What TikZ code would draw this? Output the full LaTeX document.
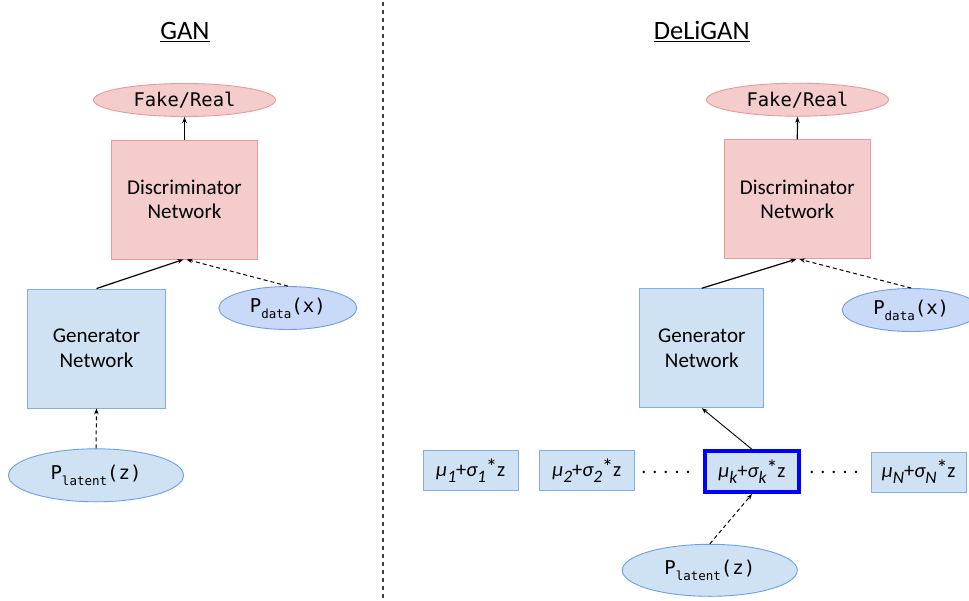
\documentclass[tikz,border=0pt]{standalone}
\usepackage{fontspec}
\setmainfont{Carlito}
\setmonofont{DejaVu Sans Mono}
\usetikzlibrary{shapes.geometric,arrows.meta}
\definecolor{pinkfill}{HTML}{F4CCCC}
\definecolor{pinkline}{HTML}{EA9999}
\definecolor{bluefill}{HTML}{CFE2F3}
\definecolor{blueline}{HTML}{7FAFE6}
\definecolor{dataFill}{HTML}{C9DAF8}
\definecolor{ellline}{HTML}{6D9EEB}
\definecolor{strongblue}{HTML}{0000FF}
\newcommand{\monosub}[1]{\raisebox{-6pt}{\fontsize{12.5}{12.5}\selectfont #1}}
\newcommand{\musub}[1]{\raisebox{-6pt}{\fontsize{17.5}{17.5}\selectfont\itshape #1}}
\newcommand{\mustar}{\raisebox{2pt}{\fontsize{22}{22}\selectfont\upshape *}}
\newcommand{\mulabel}[1]{{\fontsize{20.5}{24}\selectfont\itshape μ\musub{#1}\upshape+\itshape σ\musub{#1}\mustar\upshape z}}
\tikzset{
  pinkell/.style={ellipse, draw=pinkline, fill=pinkfill, line width=0.9pt, inner sep=0pt,
    minimum width=182pt, minimum height=33pt, font=\ttfamily\fontsize{18.8}{22}\selectfont},
  pinkbox/.style={rectangle, draw=pinkline, fill=pinkfill, line width=0.9pt, inner sep=0pt,
    minimum width=146pt, minimum height=119pt, align=center, font=\fontsize{21}{24.5}\selectfont},
  genbox/.style={rectangle, draw=blueline, fill=bluefill, line width=0.9pt, inner sep=0pt,
    minimum height=119pt, align=center, font=\fontsize{21}{24.5}\selectfont},
  dataell/.style={ellipse, draw=ellline, fill=dataFill, line width=0.9pt, inner sep=0pt,
    minimum width=138pt, minimum height=43pt, font=\ttfamily\fontsize{19}{22}\selectfont},
  latell/.style={ellipse, draw=ellline, fill=bluefill, line width=0.9pt, inner sep=0pt,
    minimum width=175pt, minimum height=53pt, font=\ttfamily\fontsize{19}{22}\selectfont},
  mubox/.style={rectangle, draw=blueline, fill=bluefill, line width=0.9pt, inner sep=0pt,
    minimum width=95pt, minimum height=40pt},
  mubold/.style={rectangle, draw=strongblue, fill=bluefill, line width=4pt, inner sep=0pt,
    minimum width=94.6pt, minimum height=40.7pt},
  titletext/.style={anchor=base, font=\fontsize{26.5}{30}\selectfont},
  dotstext/.style={anchor=base, font=\fontsize{20}{24}\selectfont},
  arr/.style={-{Stealth[length=6pt,width=4.5pt]}, line width=1.2pt, black},
  thinarr/.style={-{Stealth[length=6pt,width=4.5pt]}, line width=0.9pt, black},
  dasharr/.style={-{Stealth[length=6pt,width=4.5pt]}, line width=1pt, black, dash pattern=on 4pt off 3pt}
}
\begin{document}
\begin{tikzpicture}[x=1pt,y=-1pt]
\clip (0,0) rectangle (969,600);
\fill[white] (0,0) rectangle (969,600);

% divider
\draw[line width=1.3pt, black!75, dash pattern=on 4pt off 4pt] (383,2) -- (383,600);

% ---------- GAN ----------
\node[titletext] (tGAN) at (185,39.3) {\underline{GAN}};
\node[pinkell] (fakeL) at (184.5,100) {Fake/Real};
\node[pinkbox] (discL) at (184.5,199.5) {Discriminator\\Network};
\node[genbox, minimum width=138pt] (genL) at (96.5,348.5) {Generator\\Network};
\node[dataell] (pdataL) at (287.8,308) {P\monosub{data}(x)};
\node[latell] (platL) at (96,475.3) {P\monosub{latent}(z)};

\draw[arr] (discL.north) -- (fakeL.south);
\draw[arr] (genL.north) -- ([xshift=-1pt]discL.south);
\draw[dasharr] (pdataL.north) -- ([xshift=2pt]discL.south);
\draw[dasharr] (platL.north) -- (genL.south);

% ---------- DeLiGAN ----------
\node[titletext] (tDeLi) at (701.7,39.3) {\underline{DeLiGAN}};
\node[pinkell] (fakeR) at (797.5,99.7) {Fake/Real};
\node[pinkbox] (discR) at (797.3,199.2) {Discriminator\\Network};
\node[genbox, minimum width=124pt] (genR) at (701.8,348.2) {Generator\\Network};
\node[dataell] (pdataR) at (911.2,310) {P\monosub{data}(x)};

\node[mubox] (mu1) at (470.7,470.5) {\mulabel{1}};
\node[mubox] (mu2) at (586.8,470.5) {\mulabel{2}};
\node[dotstext] (dots1) at (666,473) {. . . . .};
\node[mubold] (muk) at (752,471.7) {\mulabel{k}};
\node[dotstext] (dots2) at (834,473) {. . . . .};
\node[mubox] (muN) at (918.7,472) {\mulabel{N}};

\node[latell, minimum height=52pt] (platR) at (709.8,570.3) {P\monosub{latent}(z)};

\draw[arr] (discR.north) -- (fakeR.south);
\draw[arr] (genR.north) -- ([xshift=-1pt]discR.south);
\draw[dasharr] (pdataR.north) -- ([xshift=2pt]discR.south);
\draw[thinarr] (muk.north) -- (genR.south);
\draw[dasharr] (platR.north) -- (muk.south);
\end{tikzpicture}
\end{document}
